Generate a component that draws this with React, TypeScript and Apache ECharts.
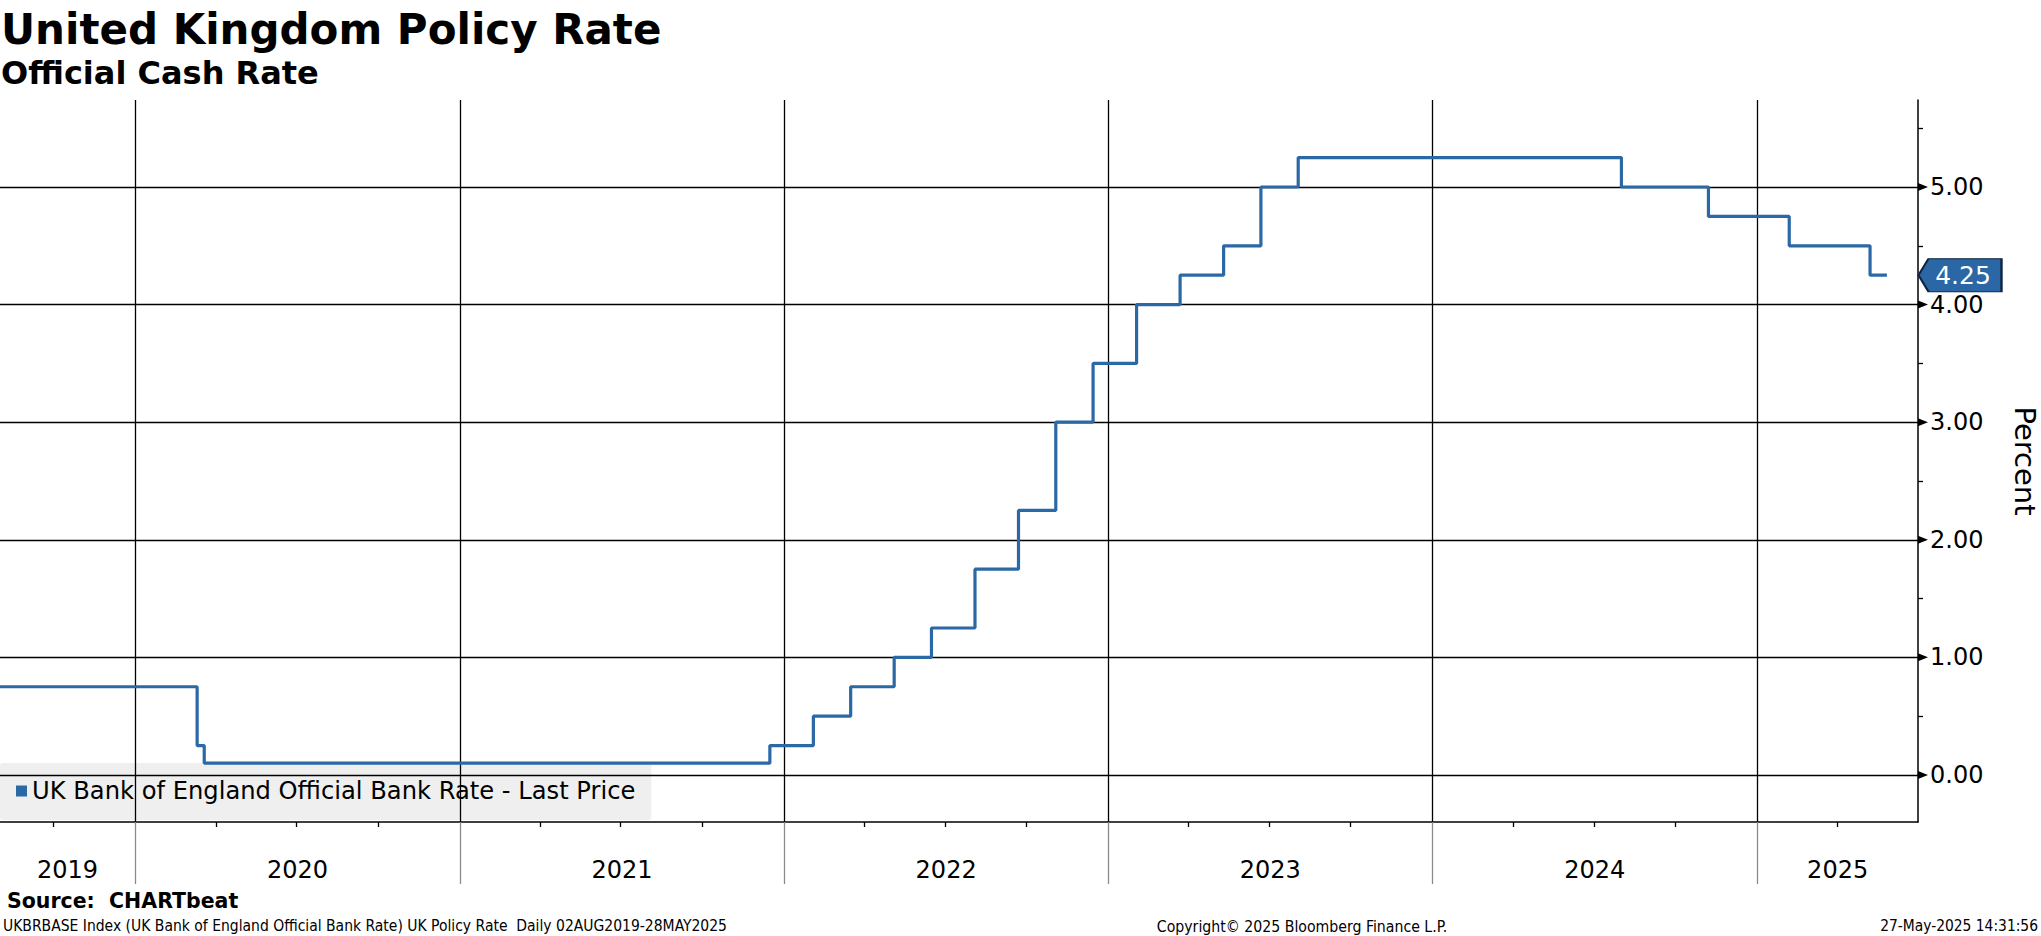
import React, { useEffect, useRef } from 'react';
import * as echarts from 'echarts';

const TITLE = 'United Kingdom Policy Rate';
const SUBTITLE = 'Official Cash Rate';
const SERIES_NAME = 'UK Bank of England Official Bank Rate - Last Price';
const Y_NAME = 'Percent';
const SOURCE = 'Source:  CHARTbeat';
const FOOTNOTE = 'UKBRBASE Index (UK Bank of England Official Bank Rate) UK Policy Rate  Daily 02AUG2019-28MAY2025';
const COPYRIGHT = 'Copyright\u00A9 2025 Bloomberg Finance L.P.';
const TIMESTAMP = '27-May-2025 14:31:56';

const xRange = ['2019-08-02', '2025-07-01'];
const yRange = [-0.4, 5.74];

const rateDates = [
  '2019-08-02', '2020-03-11', '2020-03-19', '2021-12-16', '2022-02-03', '2022-03-17',
  '2022-05-05', '2022-06-16', '2022-08-04', '2022-09-22', '2022-11-03', '2022-12-15',
  '2023-02-02', '2023-03-23', '2023-05-11', '2023-06-22', '2023-08-03', '2024-08-01',
  '2024-11-07', '2025-02-06', '2025-05-08', '2025-05-27',
];
const rateValues = [
  0.75, 0.25, 0.1, 0.25, 0.5, 0.75,
  1.0, 1.25, 1.75, 2.25, 3.0, 3.5,
  4.0, 4.25, 4.5, 5.0, 5.25, 5.0,
  4.75, 4.5, 4.25, 4.25,
];

const yTickValues = [0, 1, 2, 3, 4, 5];
const yHalfTicks = [0.5, 1.5, 2.5, 3.5, 4.5, 5.5];
const yearLabels = ['2019', '2020', '2021', '2022', '2023', '2024', '2025'];
const quarterMonths = ['04', '07', '10'];

const FONT = '"DejaVu Sans", "Liberation Sans", sans-serif';
const FONT_NARROW = '"DejaVu Sans Condensed", "Liberation Sans Narrow", "Liberation Sans", sans-serif';
const LINE_COLOR = '#2b68a6';

const ts = (s: string) => new Date(s + 'T00:00:00').getTime();

export default function App() {
  const ref = useRef<HTMLDivElement>(null);

  useEffect(() => {
    const xMin = ts(xRange[0]);
    const xMax = ts(xRange[1]);
    const yearStarts = yearLabels.slice(1).map((y) => ts(`${y}-01-01`));
    const quarterTicks: number[] = [];
    yearLabels.forEach((y) =>
      quarterMonths.forEach((m) => {
        const t = ts(`${y}-${m}-01`);
        if (t > xMin && t < xMax) quarterTicks.push(t);
      })
    );
    const labelCenters = yearLabels.map((y) => {
      const a = Math.max(ts(`${y}-01-01`), xMin);
      const b = Math.min(ts(`${Number(y) + 1}-01-01`), xMax);
      return (a + b) / 2;
    });
    const seriesData = rateDates.map((d, i) => [ts(d), rateValues[i]]);
    const lastValue = rateValues[rateValues.length - 1];

    const chart = echarts.init(ref.current!, null, { renderer: 'svg', width: 2041, height: 936 });
    const option: any = {
      animation: false,
      backgroundColor: '#ffffff',
      textStyle: { fontFamily: FONT },
      grid: { left: 0, right: 123, top: 100, bottom: 114, containLabel: false, outerBoundsMode: 'none' },
      legend: {
        left: 0,
        top: 763,
        icon: 'rect',
        itemWidth: 11,
        itemHeight: 11,
        padding: [16, 16, 17, 16],
        backgroundColor: 'rgba(226,226,226,0.56)',
        borderRadius: 3,
        textStyle: { fontSize: 24.2, color: '#000', fontFamily: FONT },
        data: [{ name: SERIES_NAME, itemStyle: { color: LINE_COLOR } }],
      },
      xAxis: [
        {
          type: 'value',
          min: xMin,
          max: xMax,
          position: 'bottom',
          axisLine: { show: true, onZero: false, lineStyle: { color: '#000', width: 1.5 } },
          axisTick: {
            show: true,
            customValues: quarterTicks,
            length: 5,
            lineStyle: { color: '#000', width: 1.3 },
          },
          axisLabel: {
            show: true,
            customValues: labelCenters,
            formatter: (v: number) => String(new Date(v).getFullYear()),
            margin: 36,
            fontSize: 24,
            color: '#000',
            fontFamily: FONT,
          },
          splitLine: { show: false },
        },
        {
          type: 'value',
          min: xMin,
          max: xMax,
          position: 'bottom',
          axisLine: { show: false, onZero: false },
          axisTick: {
            show: true,
            customValues: yearStarts,
            length: 62,
            lineStyle: { color: '#8a8a8a', width: 1.3 },
          },
          axisLabel: { show: false },
          splitLine: { show: false },
        },
      ],
      yAxis: {
        type: 'value',
        position: 'right',
        min: yRange[0],
        max: yRange[1],
        axisLine: { show: true, onZero: false, lineStyle: { color: '#000', width: 1.5 } },
        axisTick: {
          show: true,
          customValues: yHalfTicks,
          length: 5,
          inside: false,
          lineStyle: { color: '#000', width: 1.3 },
        },
        axisLabel: {
          show: true,
          customValues: yTickValues,
          formatter: (v: number) => v.toFixed(2),
          margin: 12,
          fontSize: 24,
          color: '#000',
          fontFamily: FONT,
        },
        splitLine: { show: false },
        name: Y_NAME,
        nameLocation: 'middle',
        nameRotate: -90,
        nameGap: 92,
        nameTextStyle: { fontSize: 29, color: '#000', fontFamily: FONT },
      },
      series: [
        {
          name: 'grid-lines',
          type: 'line',
          data: [],
          z: 1,
          silent: true,
          markLine: {
            silent: true,
            symbol: 'none',
            label: { show: false },
            lineStyle: { color: '#000', width: 1.3, type: 'solid' },
            emphasis: { disabled: true },
            data: [
              ...yTickValues.map((v) => ({ yAxis: v })),
              ...yearStarts.map((t) => ({ xAxis: t })),
            ],
          },
          markPoint: {
            silent: true,
            symbol: 'triangle',
            symbolSize: [8, 10],
            symbolRotate: -90,
            symbolOffset: [5, 0],
            itemStyle: { color: '#000' },
            label: { show: false },
            data: yTickValues.map((v) => ({ coord: [xMax, v] })),
          },
        },
        {
          name: SERIES_NAME,
          type: 'line',
          step: 'end',
          showSymbol: false,
          symbol: 'none',
          z: 5,
          data: seriesData,
          lineStyle: { color: LINE_COLOR, width: 3.2 },
          itemStyle: { color: LINE_COLOR },
          markPoint: {
            silent: true,
            symbol: 'path://M0,16.5 L10,0 L83,0 L83,33 L10,33 Z',
            symbolSize: [83, 33],
            symbolKeepAspect: false,
            symbolOffset: [42, 0],
            itemStyle: { color: '#2b67a5', borderColor: '#0f2540', borderWidth: 1.5 },
            label: {
              show: true,
              position: 'inside',
              offset: [3, 0],
              formatter: () => lastValue.toFixed(2),
              color: '#fff',
              fontSize: 25,
              fontFamily: FONT,
            },
            data: [{ coord: [xMax, lastValue], value: lastValue }],
          },
        },
      ],
      graphic: [
        {
          type: 'text',
          x: 1,
          y: 29,
          style: { text: TITLE, fontSize: 42, fontWeight: 'bold', fontFamily: FONT, fill: '#000', align: 'left', verticalAlign: 'middle' },
        },
        {
          type: 'text',
          x: 1,
          y: 73,
          style: { text: SUBTITLE, fontSize: 32, fontWeight: 'bold', fontFamily: FONT, fill: '#000', align: 'left', verticalAlign: 'middle' },
        },
        {
          type: 'text',
          x: 7,
          y: 901,
          style: { text: SOURCE, fontSize: 20.5, fontWeight: 'bold', fontFamily: FONT, fill: '#000', align: 'left', verticalAlign: 'middle' },
        },
        {
          type: 'text',
          x: 3,
          y: 926,
          style: { text: FOOTNOTE, fontSize: 15.5, fontFamily: FONT_NARROW, fill: '#000', align: 'left', verticalAlign: 'middle' },
        },
        {
          type: 'text',
          x: 1302,
          y: 926,
          style: { text: COPYRIGHT, fontSize: 15.7, fontFamily: FONT_NARROW, fill: '#000', align: 'center', verticalAlign: 'middle' },
        },
        {
          type: 'text',
          x: 2038,
          y: 926,
          style: { text: TIMESTAMP, fontSize: 15.4, fontFamily: FONT_NARROW, fill: '#000', align: 'right', verticalAlign: 'middle' },
        },
      ],
    };
    chart.setOption(option);
    return () => chart.dispose();
  }, []);

  return (
    <div
      ref={ref}
      style={{ position: 'fixed', left: 0, top: 0, width: 2041, height: 936, background: '#fff' }}
    />
  );
}
